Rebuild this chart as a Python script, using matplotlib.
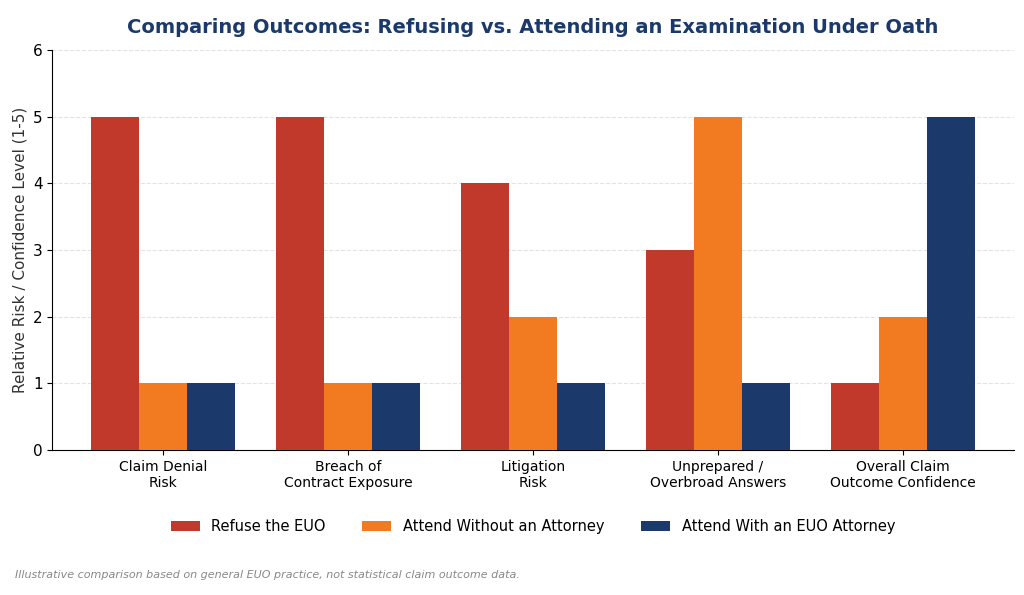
import matplotlib
matplotlib.use("Agg")
import matplotlib.pyplot as plt
import numpy as np

categories = ["Claim Denial\nRisk", "Breach of\nContract Exposure", "Litigation\nRisk",
              "Unprepared /\nOverbroad Answers", "Overall Claim\nOutcome Confidence"]
refuse = [5, 5, 4, 3, 1]
attend_no = [1, 1, 2, 5, 2]
attend_with = [1, 1, 1, 1, 5]
series_names = ["Refuse the EUO", "Attend Without an Attorney", "Attend With an EUO Attorney"]
colors = ["#C0392B", "#F27B22", "#1B3A6B"]

fig = plt.figure(figsize=(10.24, 5.95), dpi=100)
ax = fig.add_axes([0.051, 0.244, 0.939, 0.672])
x = np.arange(len(categories))
w = 0.26
for i, (vals, name, c) in enumerate(zip([refuse, attend_no, attend_with], series_names, colors)):
    ax.bar(x + (i - 1) * w, vals, w, color=c, label=name, zorder=3)
ax.set_xticks(x)
ax.set_xticklabels(categories, fontsize=10)
ax.set_ylim(0, 6)
ax.set_xlim(-0.6, 4.6)
ax.set_yticks(range(7))
ax.tick_params(axis='y', labelsize=11)
ax.set_ylabel("Relative Risk / Confidence Level (1-5)", fontsize=11, color="#333333")
ax.grid(axis='y', linestyle='--', color='#dddddd', alpha=0.8, zorder=0)
for s in ["top", "right"]:
    ax.spines[s].set_visible(False)
ax.set_title("Comparing Outcomes: Refusing vs. Attending an Examination Under Oath",
             fontsize=14, fontweight="bold", color="#1B3A6B", pad=12)
ax.legend(loc="upper center", bbox_to_anchor=(0.5, -0.14), ncol=3, frameon=False, fontsize=10.5,
          handlelength=2.0, columnspacing=2.5)
fig.text(0.015, 0.028, "Illustrative comparison based on general EUO practice, not statistical claim outcome data.",
         fontsize=8, style="italic", color="#888888")
fig.savefig("out.png", dpi=100)
